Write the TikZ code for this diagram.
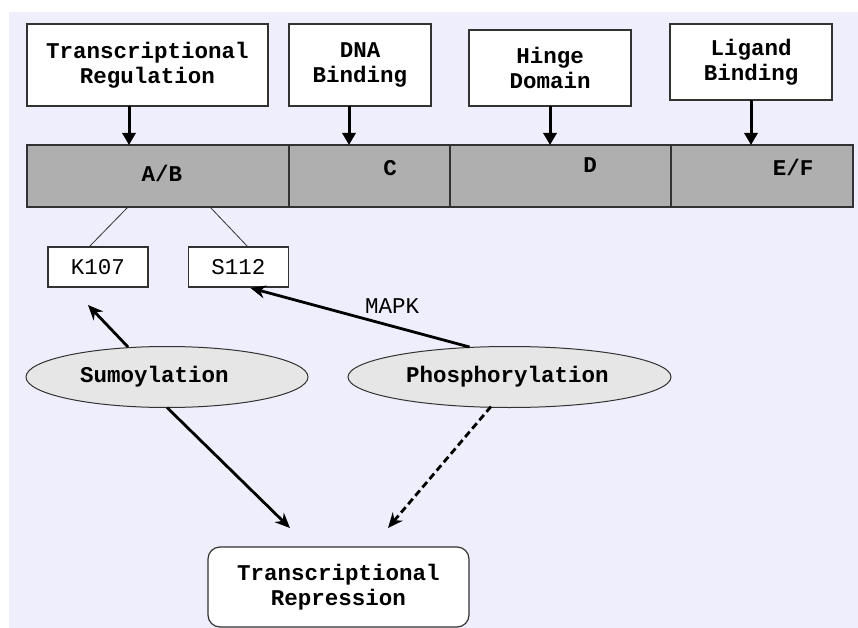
\documentclass[tikz,border=0pt]{standalone}
\usepackage{fontspec}
\newfontfamily\cour{Liberation Mono}
\usetikzlibrary{arrows.meta,shapes.geometric,calc}
\definecolor{lav}{RGB}{238,238,252}
\definecolor{bargray}{RGB}{175,175,175}
\definecolor{ellgray}{RGB}{230,230,230}
\definecolor{edge}{RGB}{50,50,50}
\begin{document}
\begin{tikzpicture}[x=1pt,y=-1pt,
  every node/.style={inner sep=0pt,outer sep=0pt},
  bigtxt/.style={font=\cour\bfseries\fontsize{22.5}{25}\selectfont,align=center},
  smalltxt/.style={font=\cour\fontsize{22.5}{25}\selectfont},
  topbox/.style={draw=edge,line width=1.2pt,fill=white,rectangle,bigtxt},
  segbox/.style={draw=edge,line width=1.2pt,fill=bargray,rectangle,minimum height=62pt},
  sitebox/.style={draw=edge,line width=1.2pt,fill=white,rectangle,minimum width=100pt,minimum height=40pt,smalltxt},
  ellbox/.style={draw=edge,line width=1pt,fill=ellgray,ellipse,minimum height=61pt,bigtxt},
  downarrow/.style={line width=3pt,-{Triangle[width=13pt,length=12pt]}},
  linkarrow/.style={line width=2.8pt,-{Stealth[width=13pt,length=15pt]}},
  thinline/.style={draw=edge,line width=0.8pt}
]
\useasboundingbox (0,0) rectangle (858,628);
\fill[white] (0,0) rectangle (858,628);
\fill[lav] (9,12) rectangle (858,628);

% top boxes
\node[topbox,minimum width=241pt,minimum height=82pt] (tr) at (147.5,65) {Transcriptional\\Regulation};
\node[topbox,minimum width=142pt,minimum height=82pt] (dna) at (360,65) {DNA\\Binding};
\node[topbox,minimum width=162pt,minimum height=76pt] (hinge) at (550,68) {Hinge\\Domain};
\node[topbox,minimum width=162pt,minimum height=76pt] (lig) at (751,62) {Ligand\\Binding};

% bar segments
\node[segbox,minimum width=262pt] (ab) at (158,176) {};
\node[segbox,minimum width=161pt] (c) at (369.5,176) {};
\node[segbox,minimum width=221pt] (d) at (560.5,176) {};
\node[segbox,minimum width=182pt] (ef) at (762,176) {};
\node[bigtxt] (labab) at (162,173) {A/B};
\node[bigtxt] (labc) at (390,168) {C};
\node[bigtxt] (labd) at (590,165) {D};
\node[bigtxt] (labef) at (793,167) {E/F};

% arrows down
\coordinate (x1) at (129,0);
\coordinate (x2) at (349,0);
\coordinate (x3) at (550,0);
\coordinate (x4) at (751,0);
\draw[downarrow] (tr.south -| x1) -- (ab.north -| x1);
\draw[downarrow] (dna.south -| x2) -- (c.north -| x2);
\draw[downarrow] (hinge.south -| x3) -- (d.north -| x3);
\draw[downarrow] (lig.south -| x4) -- (ef.north -| x4);

% sites
\node[sitebox] (k107) at (98,267) {K107};
\node[sitebox] (s112) at (238.5,267) {S112};
\draw[thinline] ($(ab.south west)+(101,0)$) -- ($(k107.north)+(-9,0)$);
\draw[thinline] ($(ab.south west)+(183,0)$) -- ($(s112.north)+(9.5,0)$);

% ellipses
\node[ellbox,minimum width=282pt] (sumo) at (167,377) {Sumoylation\hspace*{25pt}};
\node[ellbox,minimum width=323pt] (phos) at (509.5,377) {Phosphorylation\hspace*{4pt}};

% repression
\node[topbox,rounded corners=12pt,minimum width=261pt,minimum height=80pt] (rep) at (338.5,587) {Transcriptional\\Repression};

% connectors
\draw[linkarrow] ($(sumo.center)+(-39,-30)$) -- ($(k107.south)+(-10,18)$);
\draw[linkarrow] ($(phos.north)+(-40,0.5)$) -- ($(s112.south)+(12,1)$);
\node[smalltxt] (mapk) at (392,306) {MAPK};
\draw[linkarrow] (sumo.south) -- ($(rep.north)+(-48.5,-19)$);
\draw[linkarrow,dash pattern=on 7pt off 4pt] ($(phos.south)+(-18.5,-1)$) -- ($(rep.north)+(49.5,-19)$);
\end{tikzpicture}
\end{document}
